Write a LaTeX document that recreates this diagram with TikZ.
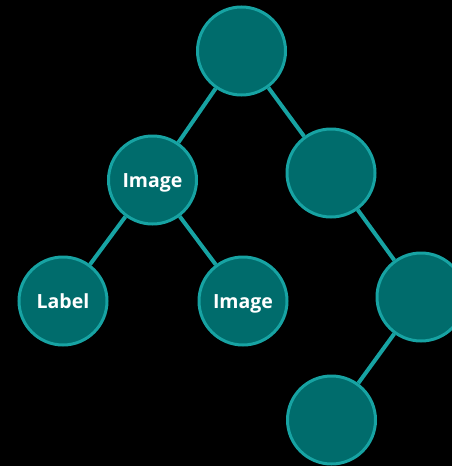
\documentclass[tikz,border=0pt]{standalone}
\usepackage{fontspec}
\setmainfont{Open Sans}
\definecolor{tfill}{HTML}{006C6C}
\definecolor{tline}{HTML}{17A3A3}
\begin{document}
\begin{tikzpicture}[x=1pt,y=-1pt,
  tn/.style={circle,draw=tline,fill=tfill,line width=3pt,minimum size=88pt,inner sep=0pt,
    text=white,font=\fontsize{19.5}{22}\selectfont\bfseries,text height=14pt,text depth=0pt},
  conn/.style={draw=tline,line width=4pt}]
\fill[black] (0,0) rectangle (452,466);
\useasboundingbox (0,0) rectangle (452,466);
\node[tn] (top) at (241.5,51) {};
\node[tn] (img) at (152.5,180) {Image};
\node[tn] (rt) at (331,173) {};
\node[tn] (lab) at (63,301) {Label};
\node[tn] (img2) at (243,301) {Image};
\node[tn] (rl) at (421,297) {};
\node[tn] (bot) at (331.5,420) {};
\draw[conn] (top) -- (img);
\draw[conn] (top) -- (rt);
\draw[conn] (img) -- (lab);
\draw[conn] (img) -- (img2);
\draw[conn] (rt) -- (rl);
\draw[conn] (rl) -- (bot);
\end{tikzpicture}
\end{document}
